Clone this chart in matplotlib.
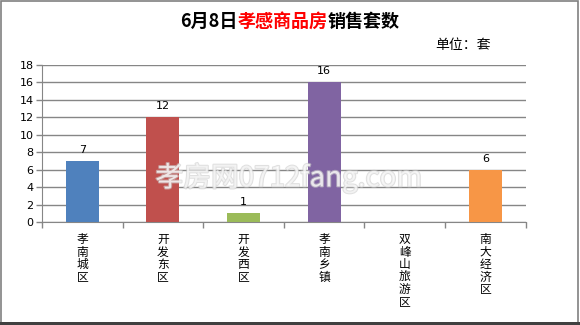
import matplotlib
matplotlib.use('Agg')
import matplotlib.pyplot as plt
import matplotlib.patheffects as pe
from matplotlib.patches import Rectangle
import numpy as np

plt.rcParams['font.family'] = ['Noto Sans CJK SC', 'DejaVu Sans']

# data
districts = ['孝南城区', '开发东区', '开发西区', '孝南乡镇', '双峰山旅游区', '南大经济区']
sales = [7, 12, 1, 16, 0, 6]
bar_colors = ['#4F81BD', '#C0504D', '#9BBB59', '#8064A2', '#F79646', '#F79646']
yticks = np.arange(0, 19, 2)

GRID = '#868686'

fig = plt.figure(figsize=(5.8, 3.25), dpi=100)
fig.patch.set_facecolor('white')
ax = fig.add_axes([0.0724, 0.317, 0.834, 0.483])

x = np.arange(len(districts))
for i, v in enumerate(sales):
    if v > 0:
        ax.bar(x[i], v, 0.41, color=bar_colors[i], edgecolor='none', zorder=3)
        ax.text(x[i], v + 0.7, str(v), ha='center', va='bottom', fontsize=8,
                color='black', family=['DejaVu Sans'], zorder=4)

ax.set_xlim(-0.5, len(districts) - 0.5)
ax.set_ylim(0, 18)
ax.set_yticks(yticks)
ax.set_yticklabels([str(t) for t in yticks], fontsize=8, family=['DejaVu Sans'])
ax.grid(True, axis='y', color=GRID, linewidth=1, zorder=0)
ax.set_axisbelow(True)

ax.set_xticks(x)
ax.set_xticklabels(['\n'.join(d) for d in districts], fontsize=8.5, va='top',
                   linespacing=0.95)
ax.set_xticks(np.arange(-0.5, len(districts)), minor=True)
ax.tick_params(axis='x', which='major', length=0, pad=8)
ax.tick_params(axis='x', which='minor', length=4, color=GRID, width=1)
ax.tick_params(axis='y', length=4, color=GRID, width=1, pad=2)

for s in ['top', 'right']:
    ax.spines[s].set_visible(False)
ax.spines['left'].set_color(GRID)
ax.spines['bottom'].set_color(GRID)

# watermark
ax.text(0.51, 0.28, '孝房网0712fang.com', transform=ax.transAxes, ha='center',
        va='center', fontsize=20, color='white', alpha=0.6, zorder=5,
        path_effects=[pe.withStroke(linewidth=1.5, foreground='#cccccc')])

# title in three colours
fig.canvas.draw()
renderer = fig.canvas.get_renderer()
parts = [('6月8日', 'black'), ('孝感商品房', 'red'), ('销售套数', 'black')]
texts = []
for s, c in parts:
    t = fig.text(0, 0.935, s, fontsize=13, fontweight='bold', color=c,
                 ha='left', va='center')
    texts.append(t)
widths = [t.get_window_extent(renderer).width for t in texts]
total = sum(widths)
xpos = 290 - total / 2
for t, w in zip(texts, widths):
    t.set_x(xpos / fig.bbox.width)
    xpos += w

fig.text(0.75, 0.86, '单位：套', fontsize=10, color='black', ha='left', va='center')

# frame around the figure
fig.patches.append(Rectangle((0.001, 0.004), 0.996, 0.994, transform=fig.transFigure,
                             fill=False, edgecolor='#808080', linewidth=1.2))
fig.patches.append(Rectangle((0.0, 0.0), 1.0, 0.008, transform=fig.transFigure,
                             color='#404040', linewidth=0))

fig.savefig('out.png', dpi=100, facecolor='white')
